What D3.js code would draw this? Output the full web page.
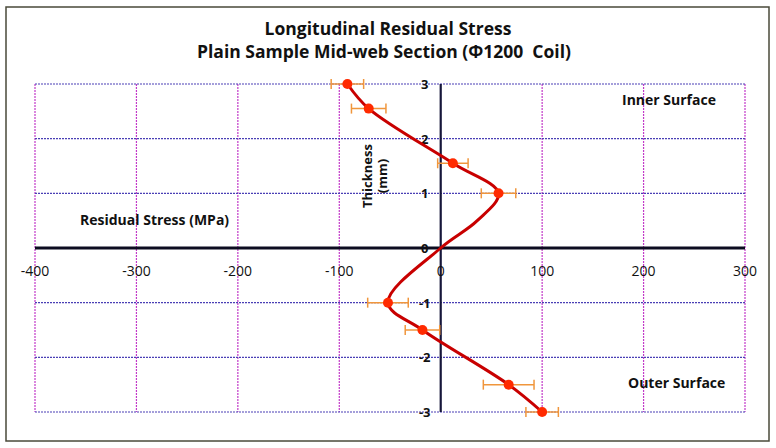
<!DOCTYPE html>
<html lang="en">
<head>
<meta charset="UTF-8">
<title>Longitudinal Residual Stress</title>
<script src="https://d3js.org/d3.v7.min.js"></script>
<style>
  body { margin: 0; background: #fff; }
  text { font-family: "Open Sans", Lato, sans-serif; fill: #111; white-space: pre; }
  .grid-h { stroke: #4a3fb5; stroke-width: 1.2; stroke-dasharray: 2,1; }
  .grid-v { stroke: #c23ac8; stroke-width: 1.2; stroke-dasharray: 2,1; }
</style>
</head>
<body>
<div id="chart"></div>
<script>
// measured points: stress (MPa), thickness (mm), error (MPa)
var stress    = [-92, -71, 12, 57, 36, 0, -52, -18, 67, 100];
var thickness = [3, 2.55, 1.55, 1, 0.5, 0, -1, -1.5, -2.5, -3];
var errs      = [16, 17, 15, 17, null, null, 20, 17, 25, 16];
var xTicks = [-400, -300, -200, -100, 0, 100, 200, 300];
var yTicks = [-3, -2, -1, 0, 1, 2, 3];

var W = 776, H = 448;
var svg = d3.select("#chart").append("svg")
  .attr("width", W).attr("height", H);

// chart frame
svg.append("rect")
  .attr("x", 6).attr("y", 7).attr("width", 763).attr("height", 434)
  .attr("fill", "#fff").attr("stroke", "#4a4a3a").attr("stroke-width", 1.5);

var x = d3.scaleLinear().domain([-400, 300]).range([35, 745]);
var y = d3.scaleLinear().domain([-3, 3]).range([412, 84]);

// gridlines
svg.append("g").selectAll("line").data(xTicks.filter(function(d){ return d != 0; }))
  .enter().append("line").attr("class", "grid-v")
  .attr("x1", function(d){ return x(d); }).attr("x2", function(d){ return x(d); })
  .attr("y1", y(3)).attr("y2", y(-3));
svg.append("g").selectAll("line").data(yTicks.filter(function(d){ return d != 0; }))
  .enter().append("line").attr("class", "grid-h")
  .attr("x1", x(-400)).attr("x2", x(300))
  .attr("y1", function(d){ return y(d); }).attr("y2", function(d){ return y(d); });

// axes
svg.append("line").attr("x1", x(0)).attr("x2", x(0)).attr("y1", y(3)).attr("y2", y(-3))
  .attr("stroke", "#16163a").attr("stroke-width", 2.2);
svg.append("line").attr("x1", x(-400)).attr("x2", x(300)).attr("y1", y(0)).attr("y2", y(0))
  .attr("stroke", "#0c0c20").attr("stroke-width", 3);

// tick labels
svg.append("g").selectAll("text").data(xTicks).enter().append("text")
  .attr("x", function(d){ return x(d); }).attr("y", y(0) + 28)
  .attr("text-anchor", "middle").style("font-size", "14px")
  .text(function(d){ return d; });
svg.append("g").selectAll("text").data(yTicks).enter().append("text")
  .attr("x", x(0) - 16).attr("y", function(d){ return y(d) + 5; })
  .attr("text-anchor", "middle").style("font-size", "13px").style("font-weight", "bold")
  .text(function(d){ return d; });

// titles
svg.append("text").attr("x", 388).attr("y", 35).attr("text-anchor", "middle")
  .style("font-size", "17.5px").style("font-weight", "bold").text("Longitudinal Residual Stress");
svg.append("text").attr("x", 384).attr("y", 58).attr("text-anchor", "middle")
  .style("font-size", "17.5px").style("font-weight", "bold").text("Plain Sample Mid-web Section (Φ1200  Coil)");

svg.append("text").attr("x", 80).attr("y", 225)
  .style("font-size", "14px").style("font-weight", "bold").text("Residual Stress (MPa)");
var yl = svg.append("text").attr("transform", "translate(372,176) rotate(-90)")
  .attr("text-anchor", "middle").style("font-size", "13px").style("font-weight", "bold");
yl.append("tspan").attr("x", 0).attr("dy", 0).text("Thickness");
yl.append("tspan").attr("x", 0).attr("dy", 15).text("(mm)");

svg.append("text").attr("x", 622).attr("y", 105)
  .style("font-size", "14px").style("font-weight", "bold").text("Inner Surface");
svg.append("text").attr("x", 628).attr("y", 388)
  .style("font-size", "14px").style("font-weight", "bold").text("Outer Surface");

var pts = stress.map(function(s, i){ return {s: s, t: thickness[i], e: errs[i]}; });

// smoothed line
var line = d3.line()
  .x(function(d){ return x(d.s); })
  .y(function(d){ return y(d.t); })
  .curve(d3.curveCatmullRom.alpha(0.5));
svg.append("path").datum(pts).attr("d", line)
  .attr("fill", "none").attr("stroke", "#c80000").attr("stroke-width", 3);

// error bars
var withErr = pts.filter(function(d){ return d.e != null; });
var eb = svg.append("g").attr("stroke", "#f0963c").attr("stroke-width", 1.5);
eb.selectAll(".eh").data(withErr).enter().append("line")
  .attr("x1", function(d){ return x(d.s - d.e); }).attr("x2", function(d){ return x(d.s + d.e); })
  .attr("y1", function(d){ return y(d.t); }).attr("y2", function(d){ return y(d.t); });
eb.selectAll(".cl").data(withErr).enter().append("line")
  .attr("x1", function(d){ return x(d.s - d.e); }).attr("x2", function(d){ return x(d.s - d.e); })
  .attr("y1", function(d){ return y(d.t) - 5; }).attr("y2", function(d){ return y(d.t) + 5; });
eb.selectAll(".cr").data(withErr).enter().append("line")
  .attr("x1", function(d){ return x(d.s + d.e); }).attr("x2", function(d){ return x(d.s + d.e); })
  .attr("y1", function(d){ return y(d.t) - 5; }).attr("y2", function(d){ return y(d.t) + 5; });

// markers
svg.append("g").selectAll("circle").data(withErr).enter().append("circle")
  .attr("cx", function(d){ return x(d.s); }).attr("cy", function(d){ return y(d.t); })
  .attr("r", 5).attr("fill", "#ff2a00");
</script>
</body>
</html>
